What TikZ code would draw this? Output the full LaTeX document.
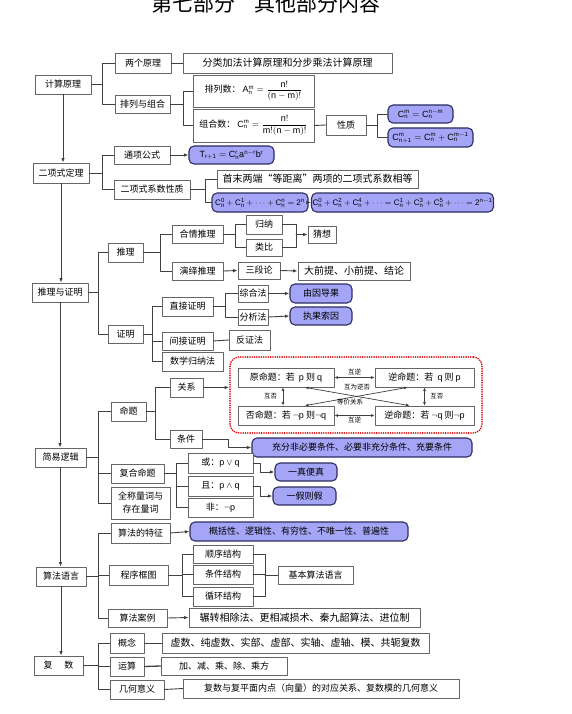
\documentclass[tikz,border=0pt]{standalone}
\usepackage{amsmath}
\usepackage{fontspec}
\setmainfont{Noto Sans CJK SC}
\setsansfont{Liberation Sans}
\usetikzlibrary{arrows.meta}

\definecolor{lav}{RGB}{165,165,248}
\definecolor{navy}{RGB}{45,45,95}

\tikzset{
  box/.style={draw=black!60, line width=0.8pt, fill=white, inner sep=1pt, font=\fontsize{9}{10.5}\selectfont},
  wide/.style={font=\fontsize{10}{11}\selectfont},
  bluebox/.style={box, draw=navy, line width=1.1pt, fill=lav, rounded corners=5pt},
  conn/.style={draw=black!75, line width=0.9pt},
  arr/.style={conn, -{Latex[length=4.5pt,width=3.5pt]}},
  darr/.style={conn, line width=0.7pt, {Latex[length=3.5pt,width=3pt]}-{Latex[length=3.5pt,width=3pt]}},
  tag/.style={font=\fontsize{6.5}{7}\selectfont, inner sep=0.5pt},
  frame/.style={draw=red!85!black, line width=1.8pt, line cap=round, dash pattern=on 0pt off 2.3pt, rounded corners=9pt},
}

\begin{document}
\begin{tikzpicture}[x=1pt, y=-1pt, line cap=round, line join=round]
  \useasboundingbox[fill=white] (0,0) rectangle (572,714);

  % Title
  \node[font=\fontsize{21}{22}\selectfont] (title) at (266,3) {第七部分\hspace{20pt}其他部分内容};

  % Counting principles
  \node[box, minimum width=56, minimum height=19] (jsyl) at (63,84.5) {计算原理};
  \node[box, minimum width=56, minimum height=20] (lgyl) at (143,63) {两个原理};
  \node[box, minimum width=55, minimum height=18] (plzh) at (142.5,104) {排列与组合};
  \node[box, wide, minimum width=209, minimum height=20] (flja) at (287.5,63) {分类加法计算原理和分步乘法计算原理};
  \node[box, minimum width=121, minimum height=32] (pls) at (253.5,91) {排列数：\ $\mathsf{A_n^m=\dfrac{n!}{(n-m)!}}$};
  \node[box, minimum width=121, minimum height=33] (zhs) at (253.5,125.5) {组合数：\ $\mathsf{C_n^m=\dfrac{n!}{m!(n-m)!}}$};
  \node[box, minimum width=40, minimum height=20] (xz) at (346,125) {性质};
  \node[bluebox, minimum width=65, minimum height=18] (xz1) at (420.5,114) {$\mathsf{C_n^m=C_n^{n-m}}$};
  \node[bluebox, minimum width=85, minimum height=19] (xz2) at (430.5,137.5) {$\mathsf{C_{n+1}^m=C_n^m+C_n^{m-1}}$};

  % Binomial theorem
  \node[box, minimum width=56, minimum height=20] (exs) at (61,173) {二项式定理};
  \node[box, minimum width=56, minimum height=18] (txgs) at (142,155) {通项公式};
  \node[bluebox, minimum width=85, minimum height=18] (tx) at (231.5,155) {$\mathsf{T_{r+1}=C_n^r a^{n-r} b^r}$};
  \node[box, minimum width=76, minimum height=19] (xsxz) at (152,189.5) {二项式系数性质};
  \node[box, wide, minimum width=201, minimum height=18] (smld) at (317.5,179) {首末两端“等距离”两项的二项式系数相等};
  \node[bluebox, minimum width=96, minimum height=19, font=\fontsize{8}{9}\selectfont] (hx1) at (260,202.5) {$\mathsf{C_n^0+C_n^1+\cdots+C_n^n=2^n}$};
  \node[bluebox, minimum width=169, minimum height=19, font=\fontsize{8}{9}\selectfont] (hx2) at (402.5,202.5) {$\mathsf{C_n^0+C_n^2+C_n^4+\cdots=C_n^1+C_n^3+C_n^5+\cdots=2^{n-1}}$};

  % Reasoning and proof
  \node[box, minimum width=56, minimum height=19] (tlzm) at (60,292.5) {推理与证明};
  \node[box, minimum width=35, minimum height=19] (tl) at (125.5,252.5) {推理};
  \node[box, minimum width=35, minimum height=18] (zm) at (125.5,334) {证明};
  \node[box, minimum width=51, minimum height=18] (hqtl) at (197.5,234) {合情推理};
  \node[box, minimum width=51, minimum height=18] (yytl) at (197.5,271) {演绎推理};
  \node[box, minimum width=36, minimum height=19] (gn) at (264,224.5) {归纳};
  \node[box, minimum width=36, minimum height=17] (lb) at (264,247.5) {类比};
  \node[box, minimum width=28, minimum height=17] (cx) at (322,234.5) {猜想};
  \node[box, minimum width=42, minimum height=17] (sdl) at (259,270.5) {三段论};
  \node[box, wide, minimum width=112, minimum height=18] (dqt) at (354,271) {大前提、小前提、结论};
  \node[box, minimum width=51, minimum height=19] (zjzm) at (187.5,306.5) {直接证明};
  \node[box, minimum width=51, minimum height=18] (jjzm) at (187.5,341) {间接证明};
  \node[box, minimum width=61, minimum height=19] (sxgn) at (192.5,361.5) {数学归纳法};
  \node[box, minimum width=30, minimum height=17] (zhf) at (253,293.5) {综合法};
  \node[box, minimum width=30, minimum height=16] (fxf) at (253,317) {分析法};
  \node[bluebox, minimum width=62, minimum height=19] (ydg) at (321,293.5) {由因导果};
  \node[bluebox, minimum width=62, minimum height=18] (zgs) at (321,316) {执果索因};
  \node[box, minimum width=41, minimum height=20] (fzf) at (249.5,340) {反证法};

  % Simple logic
  \node[box, minimum width=51, minimum height=19] (jylj) at (60.5,457.5) {简易逻辑};
  \node[box, minimum width=35, minimum height=19] (mt) at (128.5,411.5) {命题};
  \node[box, minimum width=53, minimum height=19] (fhmt) at (137.5,473.5) {复合命题};
  \node[box, minimum width=59, minimum height=32, align=center, font=\fontsize{9}{13}\selectfont] (qclc) at (140.5,503) {全称量词与\\存在量词};
  \node[box, minimum width=33, minimum height=19] (gx) at (186.5,387.5) {关系};
  \node[box, minimum width=32, minimum height=18] (tj) at (186,439) {条件};
  \node[frame, minimum width=252, minimum height=76] (ptbox) at (356,395) {};
  \node[box, minimum width=96, minimum height=19] (ymt) at (286,377.5) {原命题：若\ \ $\mathsf{p}$ 则 $\mathsf{q}$};
  \node[box, minimum width=99, minimum height=19] (nmt) at (424.5,377.5) {逆命题：若\ \ $\mathsf{q}$ 则 $\mathsf{p}$};
  \node[box, minimum width=96, minimum height=19] (fmt) at (286,415.5) {否命题：若\ $\neg\mathsf{p}$ 则$\neg\mathsf{q}$};
  \node[box, minimum width=99, minimum height=19] (nfmt) at (424.5,415.5) {逆命题：若\ $\neg\mathsf{q}$ 则$\neg\mathsf{p}$};
  \node[bluebox, minimum width=220, minimum height=19] (cfbl) at (362,447.5) {充分非必要条件、必要非充分条件、充要条件};
  \node[box, minimum width=65, minimum height=20] (huo) at (220.5,463) {或：$\mathsf{p\vee q}$};
  \node[box, minimum width=65, minimum height=20] (qie) at (220.5,486) {且：$\mathsf{p\wedge q}$};
  \node[box, minimum width=65, minimum height=19] (fei) at (220.5,507.5) {非：$\neg\mathsf{p}$};
  \node[bluebox, minimum width=62, minimum height=18] (yzbz) at (306,472) {一真便真};
  \node[bluebox, minimum width=63, minimum height=18] (yjzj) at (304.5,496) {一假则假};

  % Algorithms
  \node[box, minimum width=50, minimum height=19] (sfyy) at (61,576.5) {算法语言};
  \node[box, minimum width=59, minimum height=20] (sftz) at (140.5,533) {算法的特征};
  \node[bluebox, minimum width=218, minimum height=19] (gkx) at (299,531.5) {概括性、逻辑性、有穷性、不唯一性、普遍性};
  \node[box, minimum width=59, minimum height=20] (cxkt) at (138.5,575) {程序框图};
  \node[box, minimum width=60, minimum height=18] (sxjg) at (223,554) {顺序结构};
  \node[box, minimum width=60, minimum height=19] (tjjg) at (223,574.5) {条件结构};
  \node[box, minimum width=60, minimum height=19] (xhjg) at (223,596.5) {循环结构};
  \node[box, minimum width=75, minimum height=18] (jbsf) at (315.5,575) {基本算法语言};
  \node[box, minimum width=59, minimum height=18] (sfal) at (137.5,618) {算法案例};
  \node[box, wide, minimum width=231, minimum height=19] (zzxc) at (304.5,617.5) {辗转相除法、更相减损术、秦九韶算法、进位制};

  % Complex numbers
  \node[box, minimum width=49, minimum height=19] (fs) at (58.5,665.5) {复\hspace{12pt}数};
  \node[box, minimum width=34, minimum height=20] (gnian) at (127,643) {概念};
  \node[box, minimum width=34, minimum height=19] (ys) at (127,666.5) {运算};
  \node[box, minimum width=54, minimum height=19] (jhyy) at (137,689.5) {几何意义};
  \node[box, wide, minimum width=267, minimum height=20] (xs) at (295.5,643) {虚数、纯虚数、实部、虚部、实轴、虚轴、模、共轭复数};
  \node[box, minimum width=126, minimum height=18] (jj) at (224,666) {加、减、乘、除、乘方};
  \node[box, minimum width=276, minimum height=19] (fsy) at (321,688.5) {复数与复平面内点（向量）的对应关系、复数模的几何意义};

  % Main trunk
  \draw[arr] (jsyl.south) -- (jsyl.south |- exs.north);
  \draw[arr] (exs.south) -- (exs.south |- tlzm.north);
  \draw[arr] (tlzm.south) -- (tlzm.south |- jylj.north);
  \draw[arr] (jylj.south) -- (jylj.south |- sfyy.north);
  \draw[arr] (sfyy.south) -- (sfyy.south |- fs.north);

  % Brackets
  \coordinate (b1) at (102,84.5);
  \coordinate (b2) at (183,104);
  \coordinate (b3) at (377,125);
  \coordinate (b4) at (102,173);
  \coordinate (b5) at (205,189.5);
  \coordinate (b6) at (98,292.5);
  \coordinate (b7) at (160,252.5);
  \coordinate (b8) at (235,234);
  \coordinate (b9) at (152,334);
  \coordinate (b10) at (225,306.5);
  \coordinate (b11) at (98,457.5);
  \coordinate (b12) at (155,411.5);
  \coordinate (b13) at (176,473.5);
  \coordinate (b14) at (98,576.5);
  \coordinate (b15) at (182,575);
  \coordinate (b16) at (98,665.5);

  \draw[conn] (jsyl.east) -- (b1);
  \foreach \c in {lgyl,plzh} \draw[conn] (\c.west) -| (b1);
  \draw[conn] (plzh.east) -- (b2);
  \foreach \c in {pls,zhs} \draw[conn] (\c.west) -| (b2);
  \draw[conn] (xz.east) -- (b3);
  \foreach \c in {xz1,xz2} \draw[conn] (\c.west) -| (b3);
  \draw[conn] (exs.east) -- (b4);
  \foreach \c in {txgs,xsxz} \draw[conn] (\c.west) -| (b4);
  \draw[conn] (xsxz.east) -- (b5);
  \foreach \c in {smld,hx1} \draw[conn] (\c.west) -| (b5);
  \draw[conn] (tlzm.east) -- (b6);
  \foreach \c in {tl,zm} \draw[conn] (\c.west) -| (b6);
  \draw[conn] (tl.east) -- (b7);
  \foreach \c in {hqtl,yytl} \draw[conn] (\c.west) -| (b7);
  \draw[conn] (hqtl.east) -- (b8);
  \foreach \c in {gn,lb} \draw[conn] (\c.west) -| (b8);
  \draw[conn] (zm.east) -- (b9);
  \foreach \c in {zjzm,jjzm,sxgn} \draw[conn] (\c.west) -| (b9);
  \draw[conn] (zjzm.east) -- (b10);
  \foreach \c in {zhf,fxf} \draw[conn] (\c.west) -| (b10);
  \draw[conn] (jylj.east) -- (b11);
  \foreach \c in {mt,fhmt,qclc} \draw[conn] (\c.west) -| (b11);
  \draw[conn] (mt.east) -- (b12);
  \foreach \c in {gx,tj} \draw[conn] (\c.west) -| (b12);
  \draw[conn] (fhmt.east) -- (b13);
  \foreach \c in {huo,qie,fei} \draw[conn] (\c.west) -| (b13);
  \draw[conn] (sfyy.east) -- (b14);
  \foreach \c in {sftz,cxkt,sfal} \draw[conn] (\c.west) -| (b14);
  \draw[conn] (cxkt.east) -- (b15);
  \foreach \c in {sxjg,tjjg,xhjg} \draw[conn] (\c.west) -| (b15);
  \draw[conn] (fs.east) -- (b16);
  \foreach \c in {gnian,ys,jhyy} \draw[conn] (\c.west) -| (b16);

  % Merges
  \coordinate (m1) at (296,234.5);
  \foreach \c in {gn,lb} \draw[conn] (\c.east) -| (m1);
  \draw[arr] (m1) -- (cx.west);
  \coordinate (m2) at (265,575);
  \foreach \c in {sxjg,tjjg,xhjg} \draw[conn] (\c.east) -| (m2);
  \draw[conn] (m2) -- (jbsf.west);

  % Elbows
  \coordinate (e1) at (228,447.5);
  \draw[arr] (tj.east) -| (e1) -- (cfbl.west);
  \coordinate (e2) at (260,472);
  \draw[arr] (huo.east) -| (e2) -- (yzbz.west);
  \coordinate (e3) at (260,496);
  \draw[arr] (qie.east) -| (e3) -- (yjzj.west);

  % Straight links
  \draw[conn] (lgyl.east) -- (flja.west);
  \draw[conn] (zhs.east) -- (xz.west);
  \draw[arr] (txgs.east) -- (tx.west);
  \draw[arr] (hx1.east) -- (hx2.west);
  \draw[arr] (yytl.east) -- (sdl.west);
  \draw[arr] (sdl.east) -- (dqt.west);
  \draw[arr] (zhf.east) -- (ydg.west);
  \draw[arr] (fxf.east) -- (zgs.west);
  \draw[conn] (jjzm.east) -- (fzf.west);
  \draw[arr] (gx.east) -- (gx.east -| ptbox.west);
  \draw[arr] (sftz.east) -- (gkx.west);
  \draw[arr] (sfal.east) -- (zzxc.west);
  \draw[conn] (gnian.east) -- (xs.west);
  \draw[conn, line width=1.3pt] (ys.east) -- (jj.west);
  \draw[conn] (jhyy.east) -- (fsy.west);

  % Four propositions
  \draw[darr] (ymt.east) -- (nmt.west) node[tag, midway, above=2pt] {互逆};
  \draw[darr] (fmt.east) -- (nfmt.west) node[tag, midway, below=1pt] {互逆};
  \draw[darr] ([xshift=-3pt]ymt.south) -- ([xshift=-3pt]fmt.north) node[tag, midway, left=5pt] {互否};
  \draw[darr] (nmt.south) -- (nfmt.north) node[tag, midway, right=5pt] {互否};
  \draw[darr] ([xshift=19pt]ymt.south) -- ([xshift=-15pt]nfmt.north);
  \draw[darr] ([xshift=19pt]fmt.north) -- ([xshift=-17pt]nmt.south);
  \node[tag] (hwnf) at (357,387) {互为逆否};
  \node[tag] (djgx) at (350,402) {等价关系};
\end{tikzpicture}
\end{document}
